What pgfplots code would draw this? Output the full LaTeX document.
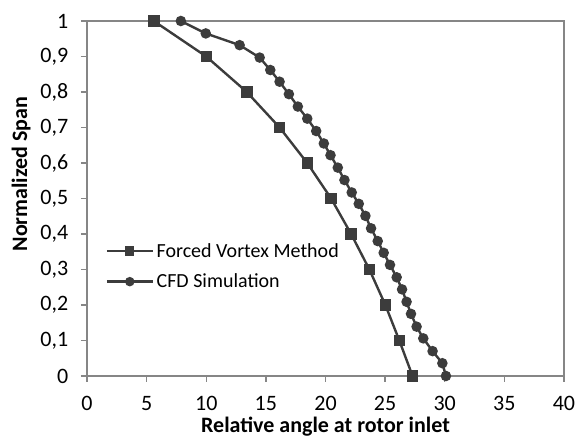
\documentclass[border=0pt]{standalone}
\usepackage{pgfplots}
\pgfplotsset{compat=1.18}
\usepackage{fontspec}
\setmainfont{Carlito}
\definecolor{axgray}{HTML}{868686}
\definecolor{serdark}{HTML}{3C3C3C}
\begin{document}
\begin{tikzpicture}
\useasboundingbox (0,0) rectangle (432pt,329.25pt);
\begin{axis}[
  at={(65.25pt,47.25pt)}, anchor=south west,
  scale only axis, width=357.75pt, height=266.25pt,
  xmin=0, xmax=40, ymin=0, ymax=1,
  xtick={0,5,...,40}, ytick={0,0.1,...,1},
  axis line style={axgray, line width=1.1pt},
  tick style={axgray, line width=1pt},
  tick align=outside, major tick length=4.5pt,
  xtick pos=bottom, ytick pos=left,
  /pgf/number format/assume math mode=true,
  /pgf/number format/use comma,
  ticklabel style={font=\fontsize{16.5}{19}\selectfont, black},
  yticklabel style={xshift=-6pt},
  xticklabel style={yshift=-7pt},
  xlabel={Relative angle at rotor inlet},
  ylabel={Normalized Span},
  label style={font=\fontsize{16.5}{19}\selectfont\bfseries},
  xlabel style={at={(axis description cs:0.5,-0.143)}, anchor=center},
  ylabel style={at={(axis description cs:-0.138,0.569)}, anchor=center},
  clip=false,
  legend style={at={(axis description cs:0.03,0.39)}, anchor=north west,
    draw=none, fill=none, font=\fontsize{15}{17}\selectfont,
    row sep=7pt},
  legend cell align=left,
  legend image code/.code={
    \draw[mark repeat=2, mark phase=2, #1, mark size=2.6pt] plot coordinates {(0pt,0pt) (17.25pt,0pt) (34.5pt,0pt)};
  },
]
\addplot[serdark, line width=1.8pt, mark=square*, mark size=3.4pt, mark options={solid}] coordinates {
(27.3,0) (26.19,0.1) (25.02,0.2) (23.68,0.3) (22.15,0.4) (20.47,0.5) (18.47,0.6) (16.15,0.7) (13.4,0.8) (10.0,0.9) (5.6,1.0)
};
\addlegendentry{Forced Vortex Method}
\addplot[serdark, line width=1.8pt, mark=*, mark size=3pt, mark options={solid}] coordinates {
(30.1,0) (29.8,0.036) (28.98,0.070) (28.2,0.106) (27.64,0.139) (27.17,0.175) (26.8,0.209) (26.42,0.244) (25.97,0.278) (25.41,0.313) (24.88,0.347) (24.38,0.380) (23.82,0.416) (23.35,0.451) (22.79,0.485) (22.2,0.517) (21.59,0.552) (21.03,0.587) (20.42,0.622) (19.86,0.655) (19.22,0.690) (18.47,0.725) (17.68,0.759) (16.93,0.794) (16.15,0.829) (15.37,0.862) (14.48,0.897) (12.8,0.932) (9.96,0.965) (7.87,1.0)
};
\addlegendentry{CFD Simulation}
\end{axis}
\end{tikzpicture}
\end{document}
